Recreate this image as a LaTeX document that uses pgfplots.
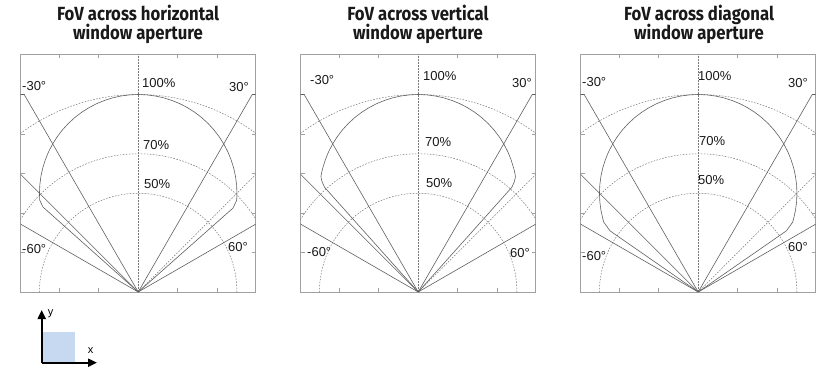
\documentclass[border=0pt]{standalone}
\usepackage{pgfplots}
\pgfplotsset{compat=1.18}
\usepackage{fontspec}
\setmainfont{Liberation Sans}
\newfontfamily\titlefont{Fira Sans}
\usetikzlibrary{arrows.meta}

\definecolor{framegray}{RGB}{160,160,160}
\definecolor{tracegray}{RGB}{95,95,95}
\definecolor{gridgray}{RGB}{120,120,120}
\definecolor{iconblue}{RGB}{198,217,240}
\definecolor{labelink}{RGB}{25,25,25}

\pgfplotsset{
  fovpanel/.style={
    x=197.5pt, y=197.5pt,
    xmin=-0.595, xmax=0.595, ymin=0, ymax=1.205,
    anchor=south west,
    axis line style={framegray, line width=0.8pt},
    xtick={-0.4,-0.2,0.2,0.4}, ytick={0.2,0.4,0.6,0.8,1},
    xticklabels={}, yticklabels={},
    tick align=inside, major tick length=4pt,
    tick style={framegray, line width=0.8pt},
    clip=true,
  },
  ray/.style={tracegray, line width=0.6pt, no markers},
  dotray/.style={gridgray, line width=0.5pt, dash pattern=on 1.6pt off 1.4pt, no markers},
}
\tikzset{
  gridarc/.style={gridgray, line width=0.5pt, dash pattern=on 1.6pt off 1.4pt},
  lbl/.style={font=\fontsize{13}{15}\selectfont, text=labelink, inner sep=0pt, anchor=west},
  ttl/.style={font=\titlefont\bfseries\fontsize{19}{21}\selectfont, text=labelink, inner sep=0pt, anchor=base, xscale=0.88},
}

% polar grid, angle rays and the 30/45/60 degree guides shared by all panels
\newcommand{\polargrid}{%
  \draw[gridarc] (axis cs:0,0) circle[radius=1];
  \draw[gridarc] (axis cs:0,0) circle[radius=0.7];
  \draw[gridarc] (axis cs:0,0) circle[radius=0.5];
  \draw[gridarc] (axis cs:0,0) -- (axis cs:0,1.205);
  \addplot[ray] coordinates {(0,0) (-0.5774,1) (-0.7,1)};
  \addplot[ray] coordinates {(0,0) (0.5774,1) (0.7,1)};
  \addplot[ray] coordinates {(0,0) (-0.7,0.4041)};
  \addplot[ray] coordinates {(0,0) (0.7,0.4041)};
  \addplot[ray] coordinates {(0,0) (-0.7,0.7)};
  \addplot[dotray] coordinates {(0,0) (0.7,0.7)};
}

\begin{document}
\begin{tikzpicture}
\useasboundingbox (0pt,0pt) rectangle (836pt,376pt);

% ---------------- horizontal aperture ----------------
\begin{axis}[fovpanel, at={(20.7pt,84pt)}]
  \polargrid
  \addplot[ray] coordinates {
    (0,0) (-0.482,0.430) (-0.4988,0.4651) (-0.5000,0.5000) (-0.4981,0.5436)
    (-0.4924,0.5868) (-0.4830,0.6294) (-0.4698,0.6710) (-0.4532,0.7113)
    (-0.4330,0.7500) (-0.4096,0.7868) (-0.3830,0.8214) (-0.3536,0.8536)
    (-0.3214,0.8830) (-0.2868,0.9096) (-0.2500,0.9330) (-0.2113,0.9532)
    (-0.1710,0.9698) (-0.1294,0.9830) (-0.0868,0.9924) (-0.0436,0.9981)
    (0,1)
    (0.0436,0.9981) (0.0868,0.9924) (0.1294,0.9830) (0.1710,0.9698)
    (0.2113,0.9532) (0.2500,0.9330) (0.2868,0.9096) (0.3214,0.8830)
    (0.3536,0.8536) (0.3830,0.8214) (0.4096,0.7868) (0.4330,0.7500)
    (0.4532,0.7113) (0.4698,0.6710) (0.4830,0.6294) (0.4924,0.5868)
    (0.4981,0.5436) (0.5000,0.5000) (0.4988,0.4651) (0.480,0.425) (0,0)
  };
\end{axis}

% ---------------- vertical aperture ----------------
\begin{axis}[fovpanel, at={(300.7pt,84pt)}]
  \polargrid
  \addplot[ray] coordinates {
    (0,0) (-0.474,0.530) (-0.486,0.556) (-0.4915,0.5780) (-0.4924,0.5868)
    (-0.4851,0.6210) (-0.4698,0.6710) (-0.4532,0.7113)
    (-0.4330,0.7500) (-0.4096,0.7868) (-0.3830,0.8214) (-0.3536,0.8536)
    (-0.3214,0.8830) (-0.2868,0.9096) (-0.2500,0.9330) (-0.2113,0.9532)
    (-0.1710,0.9698) (-0.1294,0.9830) (-0.0868,0.9924) (-0.0436,0.9981)
    (0,1)
    (0.0436,0.9981) (0.0868,0.9924) (0.1294,0.9830) (0.1710,0.9698)
    (0.2113,0.9532) (0.2500,0.9330) (0.2868,0.9096) (0.3214,0.8830)
    (0.3536,0.8536) (0.3830,0.8214) (0.4096,0.7868) (0.4330,0.7500)
    (0.4532,0.7113) (0.4698,0.6710) (0.4851,0.6210) (0.4924,0.5868)
    (0.4915,0.5780) (0.486,0.556) (0.474,0.530) (0,0)
  };
\end{axis}

% ---------------- diagonal aperture ----------------
\begin{axis}[fovpanel, at={(580.7pt,84pt)}]
  \polargrid
  \addplot[ray] coordinates {
    (0,0) (-0.447,0.310) (-0.4782,0.3538) (-0.4830,0.3706) (-0.4924,0.4132)
    (-0.4981,0.4564) (-0.5000,0.5000) (-0.4981,0.5436)
    (-0.4924,0.5868) (-0.4830,0.6294) (-0.4698,0.6710) (-0.4532,0.7113)
    (-0.4330,0.7500) (-0.4096,0.7868) (-0.3830,0.8214) (-0.3536,0.8536)
    (-0.3214,0.8830) (-0.2868,0.9096) (-0.2500,0.9330) (-0.2113,0.9532)
    (-0.1710,0.9698) (-0.1294,0.9830) (-0.0868,0.9924) (-0.0436,0.9981)
    (0,1)
    (0.0436,0.9981) (0.0868,0.9924) (0.1294,0.9830) (0.1710,0.9698)
    (0.2113,0.9532) (0.2500,0.9330) (0.2868,0.9096) (0.3214,0.8830)
    (0.3536,0.8536) (0.3830,0.8214) (0.4096,0.7868) (0.4330,0.7500)
    (0.4532,0.7113) (0.4698,0.6710) (0.4830,0.6294) (0.4924,0.5868)
    (0.4981,0.5436) (0.5000,0.5000) (0.4981,0.4564) (0.4924,0.4132)
    (0.4830,0.3706) (0.4782,0.3538) (0.447,0.310) (0,0)
  };
\end{axis}

% ---------------- titles ----------------
\node[ttl] at (138pt,355.3pt) {FoV across horizontal};
\node[ttl] at (138pt,336.7pt) {window aperture};
\node[ttl] at (418pt,355.3pt) {FoV across vertical};
\node[ttl] at (418pt,336.7pt) {window aperture};
\node[ttl] at (699pt,355.3pt) {FoV across diagonal};
\node[ttl] at (699pt,336.7pt) {window aperture};

% ---------------- ring and angle labels ----------------
\node[lbl] at (142pt,293pt) {100\%};
\node[lbl] at (143pt,231pt) {70\%};
\node[lbl] at (144pt,192pt) {50\%};
\node[lbl] at (22pt,290pt) {-30°};
\node[lbl] at (229pt,289pt) {30°};
\node[lbl] at (22pt,127pt) {-60°};
\node[lbl] at (228pt,129pt) {60°};

\node[lbl] at (423pt,300pt) {100\%};
\node[lbl] at (425pt,234pt) {70\%};
\node[lbl] at (426pt,193pt) {50\%};
\node[lbl] at (310pt,296pt) {-30°};
\node[lbl] at (512pt,293pt) {30°};
\node[lbl] at (307pt,124pt) {-60°};
\node[lbl] at (510pt,123pt) {60°};

\node[lbl] at (698pt,300pt) {100\%};
\node[lbl] at (699pt,235pt) {70\%};
\node[lbl] at (698pt,196pt) {50\%};
\node[lbl] at (582pt,294pt) {-30°};
\node[lbl] at (788pt,293pt) {30°};
\node[lbl] at (582pt,120pt) {-60°};
\node[lbl] at (788pt,129pt) {60°};

% ---------------- axis orientation icon ----------------
\fill[iconblue] (42pt,13.3pt) rectangle (75pt,44.3pt);
\draw[line width=2pt, -{Triangle[length=9pt,width=8pt]}] (41.7pt,13.3pt) -- (41.7pt,66pt);
\draw[line width=2pt, -{Triangle[length=9pt,width=8pt]}] (41.7pt,13.3pt) -- (97pt,13.3pt);
\node[font=\fontsize{11}{12}\selectfont, inner sep=0pt] at (50.7pt,62pt) {y};
\node[font=\fontsize{11}{12}\selectfont, inner sep=0pt] at (90.7pt,25pt) {x};
\end{tikzpicture}
\end{document}
